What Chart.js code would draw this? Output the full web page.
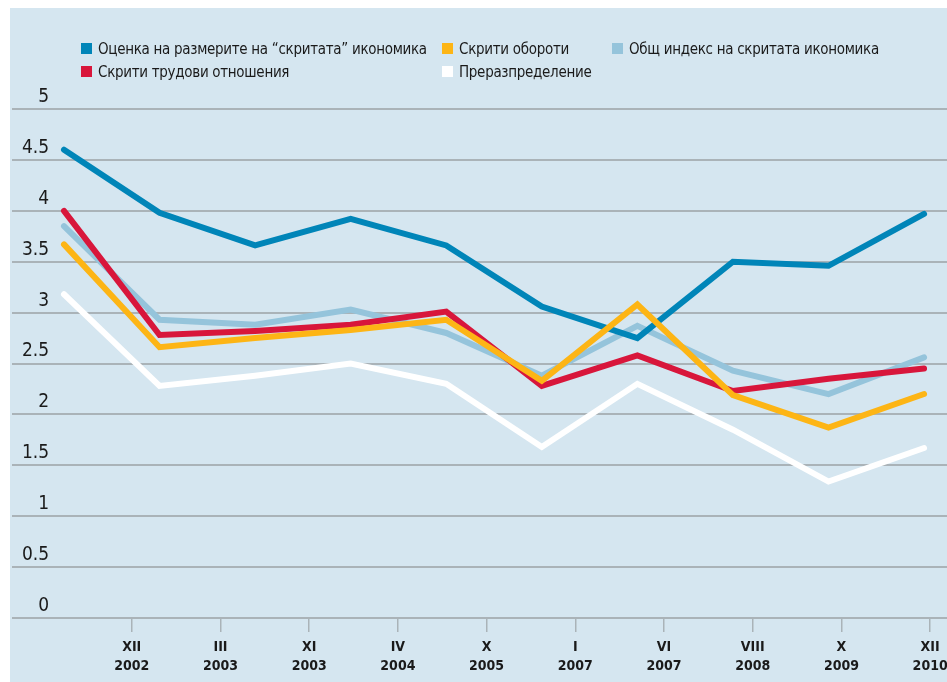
<!DOCTYPE html>
<html lang="bg">
<head>
<meta charset="utf-8">
<title>Скритата икономика</title>
<script src="https://cdn.jsdelivr.net/npm/chart.js@4"></script>
<style>
    html, body { margin: 0; padding: 0; background: #ffffff; }
    #wrap { position: relative; width: 947px; height: 682px; }
    #legend {
        position: absolute; left: 81px; top: 37px;
        display: grid; grid-template-columns: 361px 170px auto; grid-auto-rows: 23px;
        font-family: "DejaVu Sans Condensed", "DejaVu Sans", sans-serif;
        font-stretch: condensed;
        font-size: 15px; letter-spacing: -0.3px; color: #1a1a1a;
    }
    #legend .item { display: flex; align-items: center; white-space: nowrap; }
    #legend .box { width: 11px; height: 11px; margin-right: 6px; flex: none; }
</style>
</head>
<body>
<div id="wrap">
    <canvas id="shadowChart" width="947" height="682"></canvas>
    <div id="legend"></div>
</div>
<script>
// Подписи под оста X (месец / година)
const tickLabels = [
    ['XII', '2002'], ['III', '2003'], ['XI', '2003'], ['IV', '2004'], ['X', '2005'],
    ['I', '2007'], ['VI', '2007'], ['VIII', '2008'], ['X', '2009'], ['XII', '2010']
];

// Стойности по серии (10 наблюдения)
const sizeEstimate   = [4.60, 3.98, 3.66, 3.92, 3.66, 3.06, 2.75, 3.50, 3.46, 3.97];
const hiddenTurnover = [3.67, 2.66, 2.75, 2.83, 2.93, 2.33, 3.08, 2.19, 1.87, 2.20];
const overallIndex   = [3.85, 2.93, 2.88, 3.03, 2.80, 2.38, 2.87, 2.43, 2.20, 2.56];
const hiddenLabour   = [4.00, 2.78, 2.82, 2.88, 3.01, 2.28, 2.58, 2.23, 2.35, 2.45];
const redistribution = [3.18, 2.28, 2.38, 2.50, 2.30, 1.68, 2.30, 1.85, 1.34, 1.67];

const yTicks = [0, 0.5, 1, 1.5, 2, 2.5, 3, 3.5, 4, 4.5, 5];

const FONT_FAMILY = '"DejaVu Sans Condensed", "DejaVu Sans", sans-serif';

document.addEventListener('DOMContentLoaded', function () {
    const chart = renderChart();
    buildLegend(chart);
});

function toPoints(values) {
    return values.map(function (v, i) { return { x: i, y: v }; });
}

function makeDataset(label, values, color, order) {
    return {
        label: label,
        data: toPoints(values),
        borderColor: color,
        backgroundColor: color,
        borderWidth: 6,
        borderCapStyle: 'round',
        pointRadius: 0,
        tension: 0,
        order: order,
        xAxisID: 'x',
        yAxisID: 'y'
    };
}

// фон на панела
const panelBackground = {
    id: 'panelBackground',
    beforeDraw: function (chart) {
        const ctx = chart.ctx;
        ctx.save();
        ctx.fillStyle = '#ffffff';
        ctx.fillRect(0, 0, chart.width, chart.height);
        ctx.fillStyle = '#d5e6f0';
        ctx.fillRect(10, 8, chart.width - 10, chart.height - 8);
        ctx.restore();
    }
};

function renderChart() {
    const ctx = document.getElementById('shadowChart').getContext('2d');
    const gridColor = '#aab3b8';
    return new Chart(ctx, {
        type: 'line',
        data: {
            datasets: [
                makeDataset('Оценка на размерите на “скритата” икономика', sizeEstimate, '#0085b8', 2),
                makeDataset('Скрити обороти', hiddenTurnover, '#fdb515', 0),
                makeDataset('Общ индекс на скритата икономика', overallIndex, '#95c4db', 3),
                makeDataset('Скрити трудови отношения', hiddenLabour, '#d8163b', 1),
                makeDataset('Преразпределение', redistribution, '#ffffff', 4)
            ]
        },
        options: {
            responsive: false,
            animation: false,
            layout: { padding: { left: 12, right: 0, top: 109, bottom: 0 } },
            plugins: {
                legend: { display: false },
                tooltip: { enabled: false }
            },
            scales: {
                x: {
                    type: 'linear',
                    display: false,
                    min: -0.544,
                    max: 9.24
                },
                xLabels: {
                    type: 'linear',
                    position: 'bottom',
                    min: -0.35,
                    max: 10.19,
                    afterBuildTicks: function (axis) {
                        axis.ticks = tickLabels.map(function (_, i) { return { value: i + 1 }; });
                    },
                    afterFit: function (axis) {
                        axis.paddingLeft = 0;
                        axis.paddingRight = 0;
                    },
                    border: { display: false },
                    grid: {
                        drawOnChartArea: false,
                        drawTicks: true,
                        tickLength: 14,
                        color: gridColor,
                        lineWidth: 1.5
                    },
                    ticks: {
                        autoSkip: false,
                        maxRotation: 0,
                        padding: 6,
                        color: '#1a1a1a',
                        font: { family: FONT_FAMILY, size: 14, weight: 'bold condensed', lineHeight: 1.357 },
                        callback: function (value) { return tickLabels[value - 1] || ''; }
                    }
                },
                y: {
                    type: 'linear',
                    position: 'left',
                    min: 0,
                    max: 5,
                    afterBuildTicks: function (axis) {
                        axis.ticks = yTicks.map(function (v) { return { value: v }; });
                    },
                    afterFit: function (axis) { axis.width = 0; },
                    border: { display: false },
                    grid: { drawTicks: false, color: gridColor, lineWidth: 2 },
                    ticks: {
                        mirror: true,
                        crossAlign: 'far',
                        padding: 10,
                        labelOffset: -12,
                        color: '#1a1a1a',
                        font: { family: FONT_FAMILY, size: 19, weight: 'normal condensed' },
                        callback: function (value) { return String(value); }
                    }
                }
            }
        },
        plugins: [panelBackground]
    });
}

// HTML легенда по данните на графиката
function buildLegend(chart) {
    const box = document.getElementById('legend');
    chart.data.datasets.forEach(function (ds) {
        const item = document.createElement('div');
        item.className = 'item';
        const sw = document.createElement('span');
        sw.className = 'box';
        sw.style.background = ds.borderColor;
        const txt = document.createElement('span');
        txt.textContent = ds.label;
        item.appendChild(sw);
        item.appendChild(txt);
        box.appendChild(item);
    });
}
</script>
</body>
</html>
